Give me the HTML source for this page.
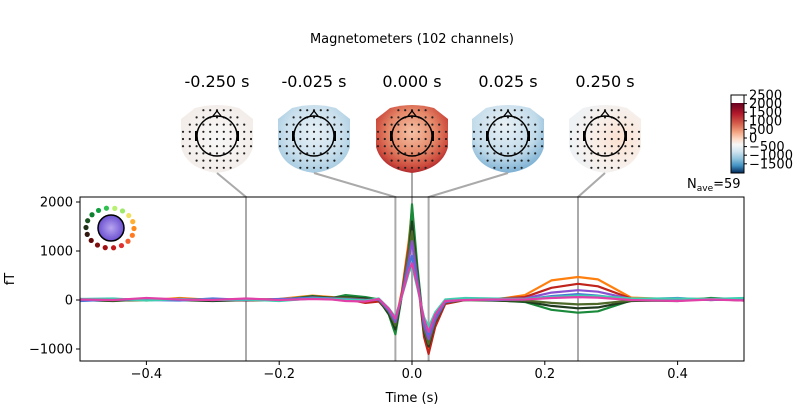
<!DOCTYPE html>
<html><head><meta charset="utf-8"><style>
body{margin:0;background:#fff}
svg{display:block;font-family:"DejaVu Sans","Liberation Sans",sans-serif}
</style></head><body>
<svg id="fig" width="800" height="420" viewBox="0 0 800 420">
<defs>
<radialGradient id="gNeutral" cx="50%" cy="50%" r="60%"><stop offset="0" stop-color="#f7f7f7"/><stop offset="1" stop-color="#f3ece8"/></radialGradient>
<radialGradient id="gBlue1" cx="50%" cy="40%" r="65%"><stop offset="0" stop-color="#e6eff5"/><stop offset="0.6" stop-color="#c9dfec"/><stop offset="1" stop-color="#9fc7df"/></radialGradient>
<radialGradient id="gRed" cx="50%" cy="40%" r="65%"><stop offset="0" stop-color="#f6c1a5"/><stop offset="0.5" stop-color="#e58768"/><stop offset="0.8" stop-color="#cc4a3c"/><stop offset="1" stop-color="#9c1528"/></radialGradient>
<radialGradient id="gBlue2" cx="45%" cy="30%" r="75%"><stop offset="0" stop-color="#e8f0f5"/><stop offset="0.6" stop-color="#c2dbea"/><stop offset="1" stop-color="#6fa8cf"/></radialGradient>
<radialGradient id="gPeach" cx="70%" cy="50%" r="70%"><stop offset="0" stop-color="#fbe0d0"/><stop offset="0.5" stop-color="#f8eee8"/><stop offset="1" stop-color="#eef2f5"/></radialGradient>
<linearGradient id="cbar" x1="0" y1="0" x2="0" y2="1">
<stop offset="0" stop-color="#67001f"/><stop offset="0.15" stop-color="#b2182b"/><stop offset="0.3" stop-color="#d6604d"/><stop offset="0.42" stop-color="#f4a582"/><stop offset="0.52" stop-color="#fddbc7"/><stop offset="0.6" stop-color="#f7f7f7"/><stop offset="0.7" stop-color="#d1e5f0"/><stop offset="0.8" stop-color="#92c5de"/><stop offset="0.9" stop-color="#4393c3"/><stop offset="1" stop-color="#053061"/></linearGradient>
<radialGradient id="legendFill" cx="50%" cy="50%" r="50%"><stop offset="0" stop-color="#b9a6f0"/><stop offset="1" stop-color="#6a4fd0"/></radialGradient>
</defs>
<text x="412" y="43" font-size="13" text-anchor="middle">Magnetometers (102 channels)</text>
<g id="topos"></g>
<g id="colorbar">
<rect x="731" y="95" width="13" height="78" fill="#fff" stroke="#000" stroke-width="1"/>
<rect x="731.5" y="103" width="12" height="69.5" fill="url(#cbar)"/>
</g>
<text x="687" y="188" font-size="13">N<tspan font-size="9" dy="3">ave</tspan><tspan dy="-3">=59</tspan></text>
<g id="plot"></g>
<text x="412" y="402" font-size="13" text-anchor="middle">Time (s)</text>
<text transform="translate(14,279) rotate(-90)" font-size="13" text-anchor="middle">fT</text>
</svg>
<script>
const times=[-0.5,-0.45,-0.4,-0.35,-0.3,-0.25,-0.2,-0.15,-0.12,-0.1,-0.07,-0.05,-0.035,-0.025,-0.015,-0.005,0,0.008,0.018,0.025,0.035,0.05,0.08,0.12,0.17,0.21,0.25,0.28,0.33,0.4,0.45,0.5];
const chOrange=[0,20,-10,40,0,10,20,90,60,10,-20,0,-200,-450,200,1200,1850,600,-700,-1000,-500,-60,10,0,100,400,470,420,50,10,30,0];
const chGreen=[20,-10,0,20,-10,20,0,80,40,100,60,10,-300,-700,100,1000,1950,700,-600,-850,-400,-20,20,0,-40,-200,-260,-230,-10,-20,40,10];
const chRed=[-10,0,20,0,20,-10,10,60,40,20,-60,-30,-250,-500,150,1100,1800,500,-750,-1100,-550,-80,0,20,60,250,330,280,30,20,0,20];
const chMagenta=[10,0,40,10,0,30,0,20,10,-20,-30,20,-180,-380,100,600,750,300,-400,-650,-300,-20,0,10,10,40,60,50,0,-20,10,-10];
const chBlue=[-20,10,0,-10,30,0,20,40,30,-10,-20,10,-200,-400,100,700,900,350,-450,-700,-350,-30,20,0,10,80,120,90,10,40,0,20];
const chCyan=[20,30,-10,20,0,10,-20,30,20,10,-10,30,-170,-350,80,550,700,250,-350,-550,-250,10,40,30,20,60,90,80,30,30,20,40];
const chDark=[0,-20,10,0,-20,0,-10,70,50,60,30,0,-280,-600,120,900,1600,550,-650,-950,-450,-50,0,-10,-30,-120,-170,-150,-20,0,20,-10];
const chPurple=[0,10,20,0,10,0,10,50,30,20,0,10,-220,-450,120,800,1200,420,-520,-800,-400,-40,10,10,30,150,200,170,20,10,10,10];
const chOlive=[10,-10,0,20,10,0,0,60,40,50,10,0,-240,-520,130,950,1400,480,-600,-900,-430,-50,0,0,-10,-60,-90,-80,-10,0,10,0];
const seriesList=[chOrange,chRed,chGreen,chDark,chOlive,chPurple,chBlue,chCyan,chMagenta];
const seriesColors=['#ff7f0e','#c0231b','#1a8a3a','#1f3a1e','#4e6a2a','#8a50d0','#4a74d8','#3fcfb0','#e040a8'];
const xTicks=[-0.4,-0.2,0.0,0.2,0.4];
const xTickLabels=['\u22120.4','\u22120.2','0.0','0.2','0.4'];
const yTicks=[-1000,0,1000,2000];
const yTickLabels=['\u22121000','0','1000','2000'];
const topoTimes=[-0.25,-0.025,0.0,0.025,0.25];
const topoLabels=['-0.250 s','-0.025 s','0.000 s','0.025 s','0.250 s'];
const cbTicks=[2500,2000,1500,1000,500,0,-500,-1000,-1500];

const NS='http://www.w3.org/2000/svg';
const X0=80,X1=744,Y0=197,Y1=361;
const xs=t=>X0+(t+0.5)/1.0*(X1-X0);
const ys=v=>300-v*0.049;
const cby=v=>138-v*0.0172;
function mk(tag,attrs,parent){const e=document.createElementNS(NS,tag);for(const k in attrs)e.setAttribute(k,attrs[k]);parent.appendChild(e);return e;}
const plot=document.getElementById('plot');
const topos=document.getElementById('topos');
const svg=document.getElementById('fig');

cbTicks.forEach(v=>{
  const y=cby(v);
  mk('line',{x1:744,x2:747,y1:y,y2:y,stroke:'#000'},svg);
  const t=mk('text',{x:749,y:y+4.5,'font-size':13},svg);
  t.textContent=v<0?'\u2212'+(-v):String(v);
  
  
});

const topoCx=[217,314,412,508,605];
const fills=['url(#gNeutral)','url(#gBlue1)','url(#gRed)','url(#gBlue2)','url(#gPeach)'];
topoTimes.forEach((tt,i)=>{
  const cx=topoCx[i],cy=139;
  const g=mk('g',{},topos);
  
  
  const lab=mk('text',{x:cx,y:87,'font-size':16,'text-anchor':'middle'},g);
  lab.textContent=topoLabels[i];
  
  
  const d=`M${cx-36},${cy-20} L${cx-22},${cy-31} Q${cx},${cy-37} ${cx+22},${cy-31} L${cx+36},${cy-20} L${cx+36},${cy+8} Q${cx+30},${cy+30} ${cx},${cy+34} Q${cx-30},${cy+30} ${cx-36},${cy+8} Z`;
  mk('path',{d:d,fill:fills[i]},g);
  for(let r=-4;r<=4;r++)for(let c=-5;c<=5;c++){
    const px=cx+c*6.8,py=cy+r*7.2;
    if(((px-cx)/35)**2+((py-cy)/34)**2<1) mk('circle',{cx:px,cy:py,r:1.1,fill:'#222'},g);
  }
  mk('circle',{cx:cx,cy:cy-3,r:20,fill:'none',stroke:'#000','stroke-width':1.5},g);
  mk('path',{d:`M${cx-4},${cy-23} L${cx},${cy-28} L${cx+4},${cy-23}`,fill:'none',stroke:'#000','stroke-width':1.3},g);
  mk('rect',{x:cx-22,y:cy-8,width:2.5,height:10,fill:'#000'},g);
  mk('rect',{x:cx+19.5,y:cy-8,width:2.5,height:10,fill:'#000'},g);
  const c=mk('polyline',{points:`${cx},${cy+34} ${xs(tt)},${Y0} ${xs(tt)},${Y1}`,fill:'none',stroke:'#aaa','stroke-width':2},plot);
  
  
});

seriesList.forEach((s,i)=>{
  const pts=s.map((v,j)=>xs(times[j]).toFixed(1)+','+ys(v).toFixed(1)).join(' ');
  const p=mk('polyline',{points:pts,fill:'none',stroke:seriesColors[i],'stroke-width':2.2,'stroke-linejoin':'round'},plot);
  
  
});

const fr=mk('rect',{x:X0,y:Y0,width:X1-X0,height:Y1-Y0,fill:'none',stroke:'#000','stroke-width':1},plot);


xTicks.forEach((t,i)=>{
  const x=xs(t);
  mk('line',{x1:x,x2:x,y1:Y1,y2:Y1+4,stroke:'#000'},plot);
  const l=mk('text',{x:x,y:Y1+17,'font-size':13,'text-anchor':'middle'},plot);
  l.textContent=xTickLabels[i];
  
  
});
yTicks.forEach((v,i)=>{
  const y=ys(v);
  mk('line',{x1:X0-4,x2:X0,y1:y,y2:y,stroke:'#000'},plot);
  const l=mk('text',{x:X0-7,y:y+4.5,'font-size':13,'text-anchor':'end'},plot);
  l.textContent=yTickLabels[i];
  
  
});

const lg=mk('g',{},plot);


const ringCols=['#b8f070','#9ee86a','#f0e060','#ffb030','#ff8a1a','#ff7a20','#f06030','#e03030','#c01818','#a01010','#801010','#600808','#301810','#203018','#1a5020','#108030','#10a040','#30c050'];
ringCols.forEach((c,k)=>{
  const a=-Math.PI/2+k*2*Math.PI/ringCols.length+0.2;
  mk('circle',{cx:110+24*Math.cos(a),cy:228+20*Math.sin(a),r:2.6,fill:c},lg);
});
mk('circle',{cx:111,cy:228,r:13,fill:'url(#legendFill)',stroke:'#000','stroke-width':1.5},lg);
</script>
</body></html>
